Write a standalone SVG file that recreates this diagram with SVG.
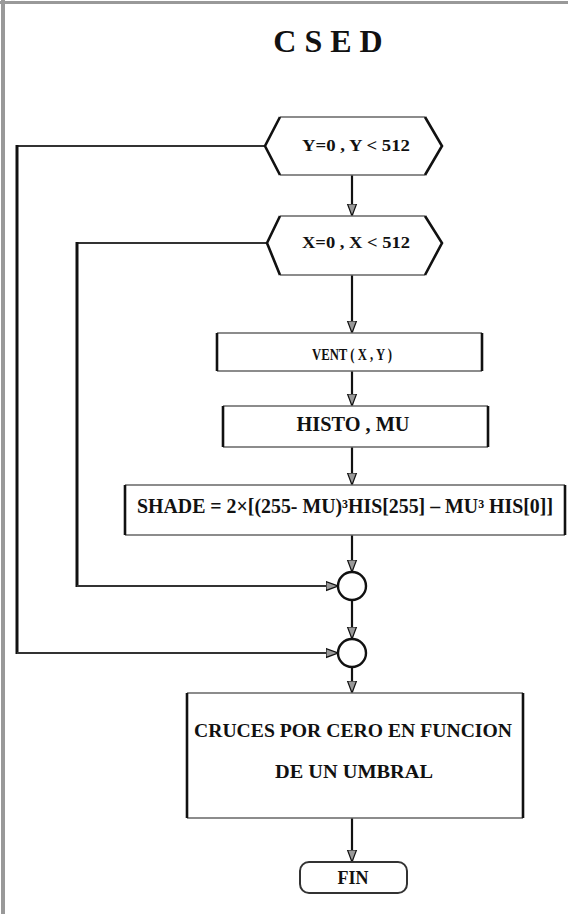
<svg xmlns="http://www.w3.org/2000/svg" width="568" height="914" viewBox="0 0 568 914">
<style>
  .t { font-family: "Liberation Serif", "Times New Roman", serif; font-weight: bold; fill: #111; text-anchor: middle; }
  .edgeH { stroke: #666; stroke-width: 1.6; fill: none; }
  .edgeV { stroke: #111; stroke-width: 2.6; fill: none; }
  .conn { stroke: #111; stroke-width: 2.2; fill: none; }
  .loop { stroke: #333; stroke-width: 1.8; fill: none; }
  .loopV { stroke: #111; stroke-width: 3; fill: none; }
  .node { fill: #fff; }
</style>
<defs>
  <marker id="ah" markerUnits="userSpaceOnUse" markerWidth="12" markerHeight="12" viewBox="0 0 12 10" refX="12" refY="5" orient="auto">
    <path d="M0,0.5 L12,5 L0,9.5 Z" fill="#999" stroke="#111" stroke-width="1.2"/>
  </marker>
</defs>
<rect x="0" y="0" width="568" height="914" fill="#fff"/>
<g id="page-border">
  <line x1="0" y1="2.5" x2="568" y2="2.5" stroke="#999" stroke-width="3"/>
  <line x1="3" y1="0" x2="3" y2="914" stroke="#999" stroke-width="4"/>
</g>

<g id="title">
  <text class="t" x="332" y="52" font-size="32" letter-spacing="8">CSED</text>
</g>

<g id="connectors">
  <line class="conn" x1="352" y1="175" x2="352" y2="216" marker-end="url(#ah)"/>
  <line class="conn" x1="352" y1="275" x2="352" y2="333" marker-end="url(#ah)"/>
  <line class="conn" x1="352" y1="371" x2="352" y2="406" marker-end="url(#ah)"/>
  <line class="conn" x1="352" y1="447" x2="352" y2="485" marker-end="url(#ah)"/>
  <line class="conn" x1="352" y1="535" x2="352" y2="572" marker-end="url(#ah)"/>
  <line class="conn" x1="352" y1="600" x2="352" y2="639" marker-end="url(#ah)"/>
  <line class="conn" x1="352" y1="667" x2="352" y2="693" marker-end="url(#ah)"/>
  <line class="conn" x1="352" y1="818" x2="352" y2="862" marker-end="url(#ah)"/>
  <line class="loop" x1="267" y1="243" x2="77" y2="243"/>
  <line class="loopV" x1="77" y1="242" x2="77" y2="587"/>
  <line class="loop" x1="77" y1="586" x2="338" y2="586" marker-end="url(#ah)"/>
  <line class="loop" x1="265" y1="146" x2="17" y2="146"/>
  <line class="loopV" x1="17" y1="145" x2="17" y2="654"/>
  <line class="loop" x1="17" y1="653" x2="338" y2="653" marker-end="url(#ah)"/>
</g>

<g id="loopY">
  <polygon class="node" points="265,146 280,117 425,117 442,146 425,175 280,175"/>
  <line class="edgeH" x1="280" y1="117" x2="425" y2="117"/>
  <line class="edgeH" x1="280" y1="175" x2="425" y2="175"/>
  <polyline class="edgeV" points="280,117 265,146 280,175"/>
  <polyline class="edgeV" points="425,117 442,146 425,175"/>
  <text class="t" x="356" y="151" font-size="17" textLength="108" lengthAdjust="spacingAndGlyphs">Y=0 , Y &lt; 512</text>
</g>

<g id="loopX">
  <polygon class="node" points="267,243 280,216 425,216 442,243 425,275 280,275"/>
  <line class="edgeH" x1="280" y1="216" x2="425" y2="216"/>
  <line class="edgeH" x1="280" y1="275" x2="425" y2="275"/>
  <polyline class="edgeV" points="280,216 267,243 280,275"/>
  <polyline class="edgeV" points="425,216 442,243 425,275"/>
  <text class="t" x="356" y="248" font-size="17" textLength="108" lengthAdjust="spacingAndGlyphs">X=0 , X &lt; 512</text>
</g>

<g id="vent">
  <rect class="node" x="217" y="333" width="265" height="38"/>
  <line class="edgeH" x1="217" y1="333" x2="482" y2="333"/>
  <line class="edgeH" x1="217" y1="371" x2="482" y2="371"/>
  <line class="edgeV" x1="217" y1="333" x2="217" y2="371"/>
  <line class="edgeV" x1="482" y1="333" x2="482" y2="371"/>
  <text class="t" x="352" y="360" font-size="16" textLength="80" lengthAdjust="spacingAndGlyphs">VENT ( X , Y )</text>
</g>

<g id="histo">
  <rect class="node" x="223" y="406" width="265" height="41"/>
  <line class="edgeH" x1="223" y1="406" x2="488" y2="406"/>
  <line class="edgeH" x1="223" y1="447" x2="488" y2="447"/>
  <line class="edgeV" x1="223" y1="406" x2="223" y2="447"/>
  <line class="edgeV" x1="488" y1="406" x2="488" y2="447"/>
  <text class="t" x="353" y="431" font-size="20" textLength="113" lengthAdjust="spacingAndGlyphs">HISTO , MU</text>
</g>

<g id="shade">
  <rect class="node" x="125" y="485" width="440" height="50"/>
  <line class="edgeH" x1="125" y1="485" x2="565" y2="485"/>
  <line class="edgeH" x1="125" y1="535" x2="565" y2="535"/>
  <line class="edgeV" x1="125" y1="485" x2="125" y2="535"/>
  <line class="edgeV" x1="565" y1="485" x2="565" y2="535"/>
  <text class="t" x="345" y="513" font-size="20" textLength="416" lengthAdjust="spacingAndGlyphs">SHADE = 2×[(255- MU)³HIS[255] – MU³ HIS[0]]</text>
</g>

<g id="join1">
  <circle cx="352" cy="586" r="14" fill="#fff" stroke="#111" stroke-width="2.4"/>
</g>

<g id="join2">
  <circle cx="352" cy="653" r="14" fill="#fff" stroke="#111" stroke-width="2.4"/>
</g>

<g id="cruces">
  <rect class="node" x="187" y="693" width="336" height="125"/>
  <line class="edgeH" x1="187" y1="693" x2="523" y2="693"/>
  <line class="edgeH" x1="187" y1="818" x2="523" y2="818"/>
  <line class="edgeV" x1="187" y1="693" x2="187" y2="818"/>
  <line class="edgeV" x1="523" y1="693" x2="523" y2="818"/>
  <text class="t" x="353" y="737" font-size="19" textLength="318" lengthAdjust="spacingAndGlyphs">CRUCES POR CERO EN FUNCION</text>
  <text class="t" x="354" y="778" font-size="19" textLength="158" lengthAdjust="spacingAndGlyphs">DE UN UMBRAL</text>
</g>

<g id="fin">
  <rect class="node" x="300" y="862" width="107" height="31" rx="9" ry="9" stroke="#333" stroke-width="2"/>
  <text class="t" x="353" y="884" font-size="18">FIN</text>
</g>
</svg>
